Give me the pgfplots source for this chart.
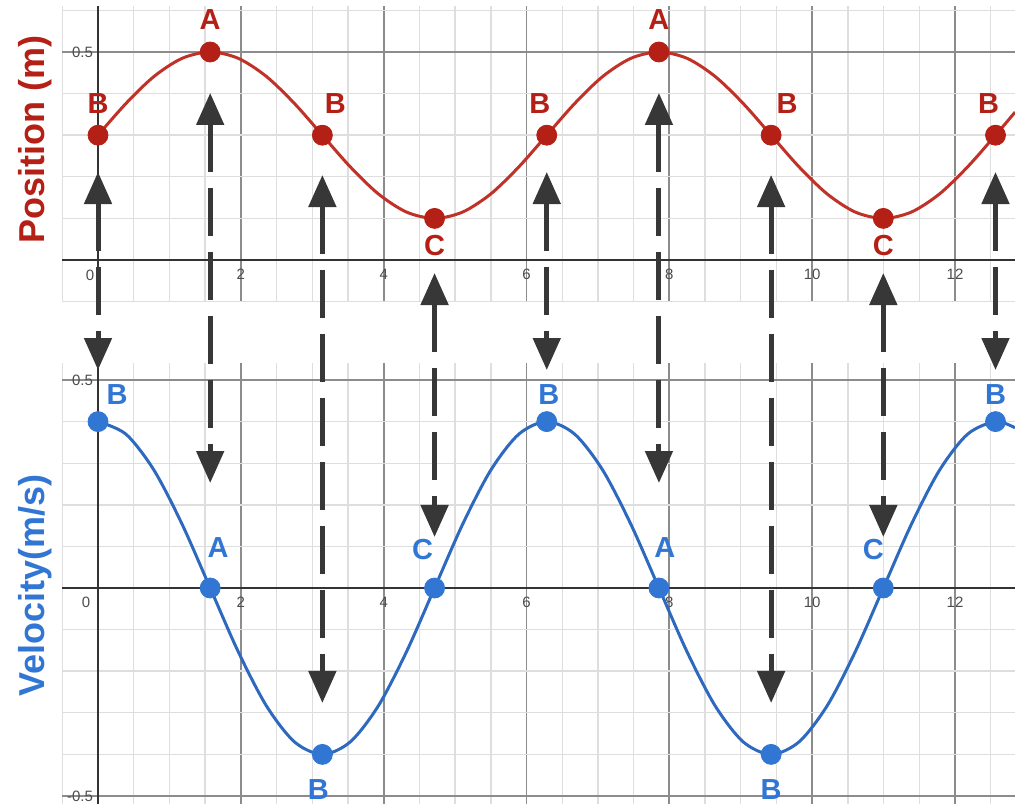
\documentclass[border=0pt]{standalone}
\usepackage{fontspec}
\setmainfont{Liberation Sans}
\usepackage{pgfplots}
\pgfplotsset{compat=1.18}
\usetikzlibrary{arrows.meta}
\definecolor{posred}{RGB}{180,32,22}
\definecolor{posline}{RGB}{192,50,40}
\definecolor{velblue}{RGB}{50,118,212}
\definecolor{velline}{RGB}{45,105,190}
\definecolor{arrowgray}{RGB}{55,55,55}
\pgfplotsset{
 panel/.style={
  x=35.71pt, y=208pt,
  xmin=-0.5, xmax=12.84,
  axis lines=middle,
  axis line style={-, draw=black!80, line width=1.1pt},
  xtick={2,4,...,12},
  minor xtick={-0.5,0,0.5,1,...,12.5},
  grid=both,
  major grid style={draw=black!45, line width=0.9pt},
  minor grid style={draw=black!13, line width=0.7pt},
  major tick length=0pt, minor tick length=0pt,
  tick label style={font=\fontsize{7.5}{8}\selectfont, text=black!70},
  /pgf/number format/assume math mode=true,
  xticklabel style={anchor=north, yshift=-1pt},
  yticklabel style={anchor=east, xshift=1pt},
  clip=false,
  anchor=origin,
 },
}
\tikzset{
 lab/.style={font=\bfseries\fontsize{14.5}{16}\selectfont},
 axlab/.style={font=\bfseries\fontsize{18}{20}\selectfont, rotate=90},
 arr/.style={draw=arrowgray, line width=2.5pt, dash pattern=on 24pt off 8pt,
   {Triangle[width=13.5pt,length=16pt]}-{Triangle[width=13.5pt,length=16pt]}},
}
\begin{document}
\begin{tikzpicture}
\path[use as bounding box] (-49pt,130pt) rectangle (458.5pt,-273pt);
% ---------------- Position panel ----------------
\begin{axis}[panel, at={(0pt,0pt)},
  ymin=-0.1, ymax=0.61,
  ytick={0.5}, minor ytick={-0.1,0,0.1,0.2,0.3,0.4,0.6}]
\addplot[posline, line width=1.5pt, smooth] coordinates {
(0,0.3)(0.3927,0.3765)(0.7854,0.4414)(1.1781,0.4848)(1.5708,0.5)(1.9635,0.4848)(2.3562,0.4414)(2.7489,0.3765)(3.1416,0.3)(3.5343,0.2235)(3.9270,0.1586)(4.3197,0.1152)(4.7124,0.1)(5.1051,0.1152)(5.4978,0.1586)(5.8905,0.2235)(6.2832,0.3)(6.6759,0.3765)(7.0686,0.4414)(7.4613,0.4848)(7.8540,0.5)(8.2467,0.4848)(8.6394,0.4414)(9.0321,0.3765)(9.4248,0.3)(9.8175,0.2235)(10.2102,0.1586)(10.6029,0.1152)(10.9956,0.1)(11.3883,0.1152)(11.7810,0.1586)(12.1737,0.2235)(12.5664,0.3)(12.84,0.3554)};
\addplot[only marks, mark=*, mark size=5pt, mark options={fill=posred, draw=posred}] coordinates {
(0,0.3)(1.5708,0.5)(3.1416,0.3)(4.7124,0.1)(6.2832,0.3)(7.8540,0.5)(9.4248,0.3)(10.9956,0.1)(12.5664,0.3)};
\node[lab, text=posred, yshift=16pt] at (axis cs:0,0.3) {B};
\node[lab, text=posred, yshift=16pt] at (axis cs:1.5708,0.5) {A};
\node[lab, text=posred, yshift=16pt, xshift=6.5pt] at (axis cs:3.1416,0.3) {B};
\node[lab, text=posred, yshift=-13.5pt] at (axis cs:4.7124,0.1) {C};
\node[lab, text=posred, yshift=16pt, xshift=-3.5pt] at (axis cs:6.2832,0.3) {B};
\node[lab, text=posred, yshift=16pt] at (axis cs:7.8540,0.5) {A};
\node[lab, text=posred, yshift=16pt, xshift=8pt] at (axis cs:9.4248,0.3) {B};
\node[lab, text=posred, yshift=-13.5pt] at (axis cs:10.9956,0.1) {C};
\node[lab, text=posred, yshift=16pt, xshift=-3.5pt] at (axis cs:12.5664,0.3) {B};
\node[font=\fontsize{7.5}{8}\selectfont, text=black!70, xshift=-4pt, yshift=-7.5pt] at (axis cs:0,0) {0};
\node[axlab, text=posred] at (axis cs:-0.882,0.29) {Position (m)};
\end{axis}
% ---------------- Velocity panel ----------------
\begin{axis}[panel, at={(0pt,-164pt)},
  ymin=-0.52, ymax=0.54,
  ytick={-0.5,0.5}, minor ytick={-0.4,-0.3,-0.2,-0.1,0,0.1,0.2,0.3,0.4}]
\addplot[velline, line width=1.5pt, smooth] coordinates {
(0,0.4)(0.3927,0.3696)(0.7854,0.2828)(1.1781,0.1531)(1.5708,0)(1.9635,-0.1531)(2.3562,-0.2828)(2.7489,-0.3696)(3.1416,-0.4)(3.5343,-0.3696)(3.9270,-0.2828)(4.3197,-0.1531)(4.7124,0)(5.1051,0.1531)(5.4978,0.2828)(5.8905,0.3696)(6.2832,0.4)(6.6759,0.3696)(7.0686,0.2828)(7.4613,0.1531)(7.8540,0)(8.2467,-0.1531)(8.6394,-0.2828)(9.0321,-0.3696)(9.4248,-0.4)(9.8175,-0.3696)(10.2102,-0.2828)(10.6029,-0.1531)(10.9956,0)(11.3883,0.1531)(11.7810,0.2828)(12.1737,0.3696)(12.5664,0.4)(12.84,0.385)};
\addplot[only marks, mark=*, mark size=5pt, mark options={fill=velblue, draw=velblue}] coordinates {
(0,0.4)(1.5708,0)(3.1416,-0.4)(4.7124,0)(6.2832,0.4)(7.8540,0)(9.4248,-0.4)(10.9956,0)(12.5664,0.4)};
\node[lab, text=velblue, xshift=9.5pt, yshift=13.5pt] at (axis cs:0,0.4) {B};
\node[lab, text=velblue, xshift=4pt, yshift=20pt] at (axis cs:1.5708,0) {A};
\node[lab, text=velblue, xshift=-2pt, yshift=-17.5pt] at (axis cs:3.1416,-0.4) {B};
\node[lab, text=velblue, xshift=-6pt, yshift=19pt] at (axis cs:4.7124,0) {C};
\node[lab, text=velblue, xshift=1pt, yshift=13.5pt] at (axis cs:6.2832,0.4) {B};
\node[lab, text=velblue, xshift=3pt, yshift=20pt] at (axis cs:7.8540,0) {A};
\node[lab, text=velblue, yshift=-17.5pt] at (axis cs:9.4248,-0.4) {B};
\node[lab, text=velblue, xshift=-5pt, yshift=19pt] at (axis cs:10.9956,0) {C};
\node[lab, text=velblue, yshift=13.5pt] at (axis cs:12.5664,0.4) {B};
\node[font=\fontsize{7.5}{8}\selectfont, text=black!70, xshift=-6pt, yshift=-7pt] at (axis cs:0,0) {0};
\node[axlab, text=velblue] at (axis cs:-0.882,0.007) {Velocity(m/s)};
% connecting arrows
\draw[arr] (axis cs:0,1.0) -- (axis cs:0,0.524);
\draw[arr] (axis cs:1.5708,1.19) -- (axis cs:1.5708,0.2524);
\draw[arr] (axis cs:3.1416,0.9928) -- (axis cs:3.1416,-0.2764);
\draw[arr] (axis cs:4.7124,0.7572) -- (axis cs:4.7124,0.1226);
\draw[arr] (axis cs:6.2832,1.0) -- (axis cs:6.2832,0.524);
\draw[arr] (axis cs:7.8540,1.19) -- (axis cs:7.8540,0.2524);
\draw[arr] (axis cs:9.4248,0.9928) -- (axis cs:9.4248,-0.2764);
\draw[arr] (axis cs:10.9956,0.7572) -- (axis cs:10.9956,0.1226);
\draw[arr] (axis cs:12.5664,1.0) -- (axis cs:12.5664,0.524);
\end{axis}
\end{tikzpicture}
\end{document}
